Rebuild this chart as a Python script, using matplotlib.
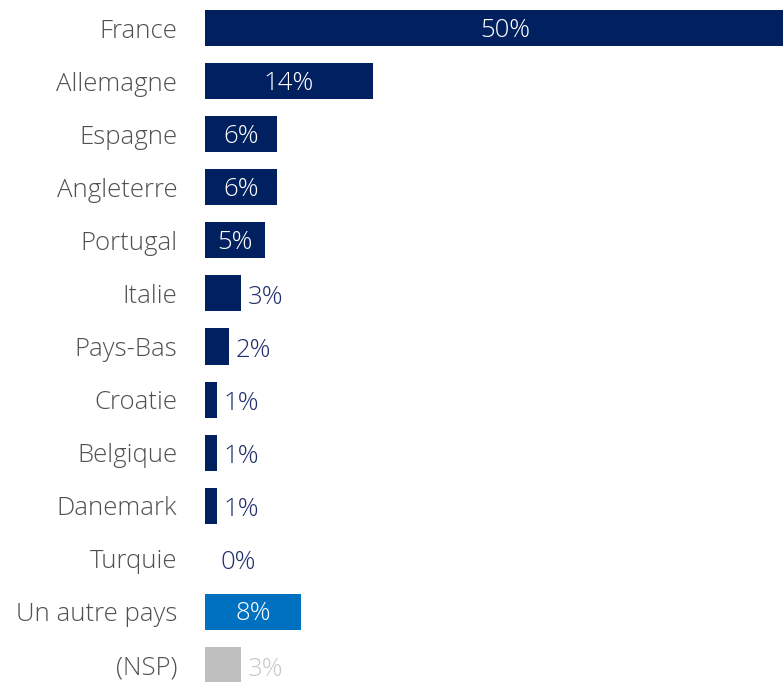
import matplotlib
matplotlib.use("Agg")
import matplotlib.pyplot as plt

categories = ["France", "Allemagne", "Espagne", "Angleterre", "Portugal", "Italie",
              "Pays-Bas", "Croatie", "Belgique", "Danemark", "Turquie", "Un autre pays", "(NSP)"]
values = [50, 14, 6, 6, 5, 3, 2, 1, 1, 1, 0, 8, 3]
labels = ["50%", "14%", "6%", "6%", "5%", "3%", "2%", "1%", "1%", "1%", "0%", "8%", "3%"]

NAVY = "#002060"
BLUE = "#0070C0"
GRAY = "#BFBFBF"
colors = [NAVY] * 11 + [BLUE, GRAY]

plt.rcParams['font.family'] = ['Open Sans', 'DejaVu Sans']

fig = plt.figure(figsize=(7.83, 6.82), dpi=100)
ax = fig.add_axes([205 / 783, 0, 578 / 783, 1])
y = list(range(len(categories)))
ax.barh(y, values, height=0.68, color=colors)
ax.set_xlim(0, 578 / 12)
ax.set_ylim(12 + 17 / 53.08, -28 / 53.08)

FS = 18.5
ax.set_yticks(y)
ax.set_yticklabels(categories, fontsize=FS, color="#505050", fontweight="light")
ax.tick_params(axis="y", length=0, pad=20)
ax.set_xticks([])
for s in ax.spines.values():
    s.set_visible(False)

for i, (v, lab) in enumerate(zip(values, labels)):
    if v >= 5:
        ax.annotate(lab, (min(v, 50) / 2, i), xytext=(0, -1.5), textcoords="offset points",
                    ha="center", va="center", color="white", fontsize=FS, fontweight="light")
    else:
        col = "#C8C8C8" if i == 12 else "#1F2D6B"
        dx = 11 if v == 0 else 5
        ax.annotate(lab, (v, i), xytext=(dx, -3), textcoords="offset points",
                    ha="left", va="center", color=col, fontsize=FS, fontweight="light")

fig.savefig("out.png", dpi=100)
